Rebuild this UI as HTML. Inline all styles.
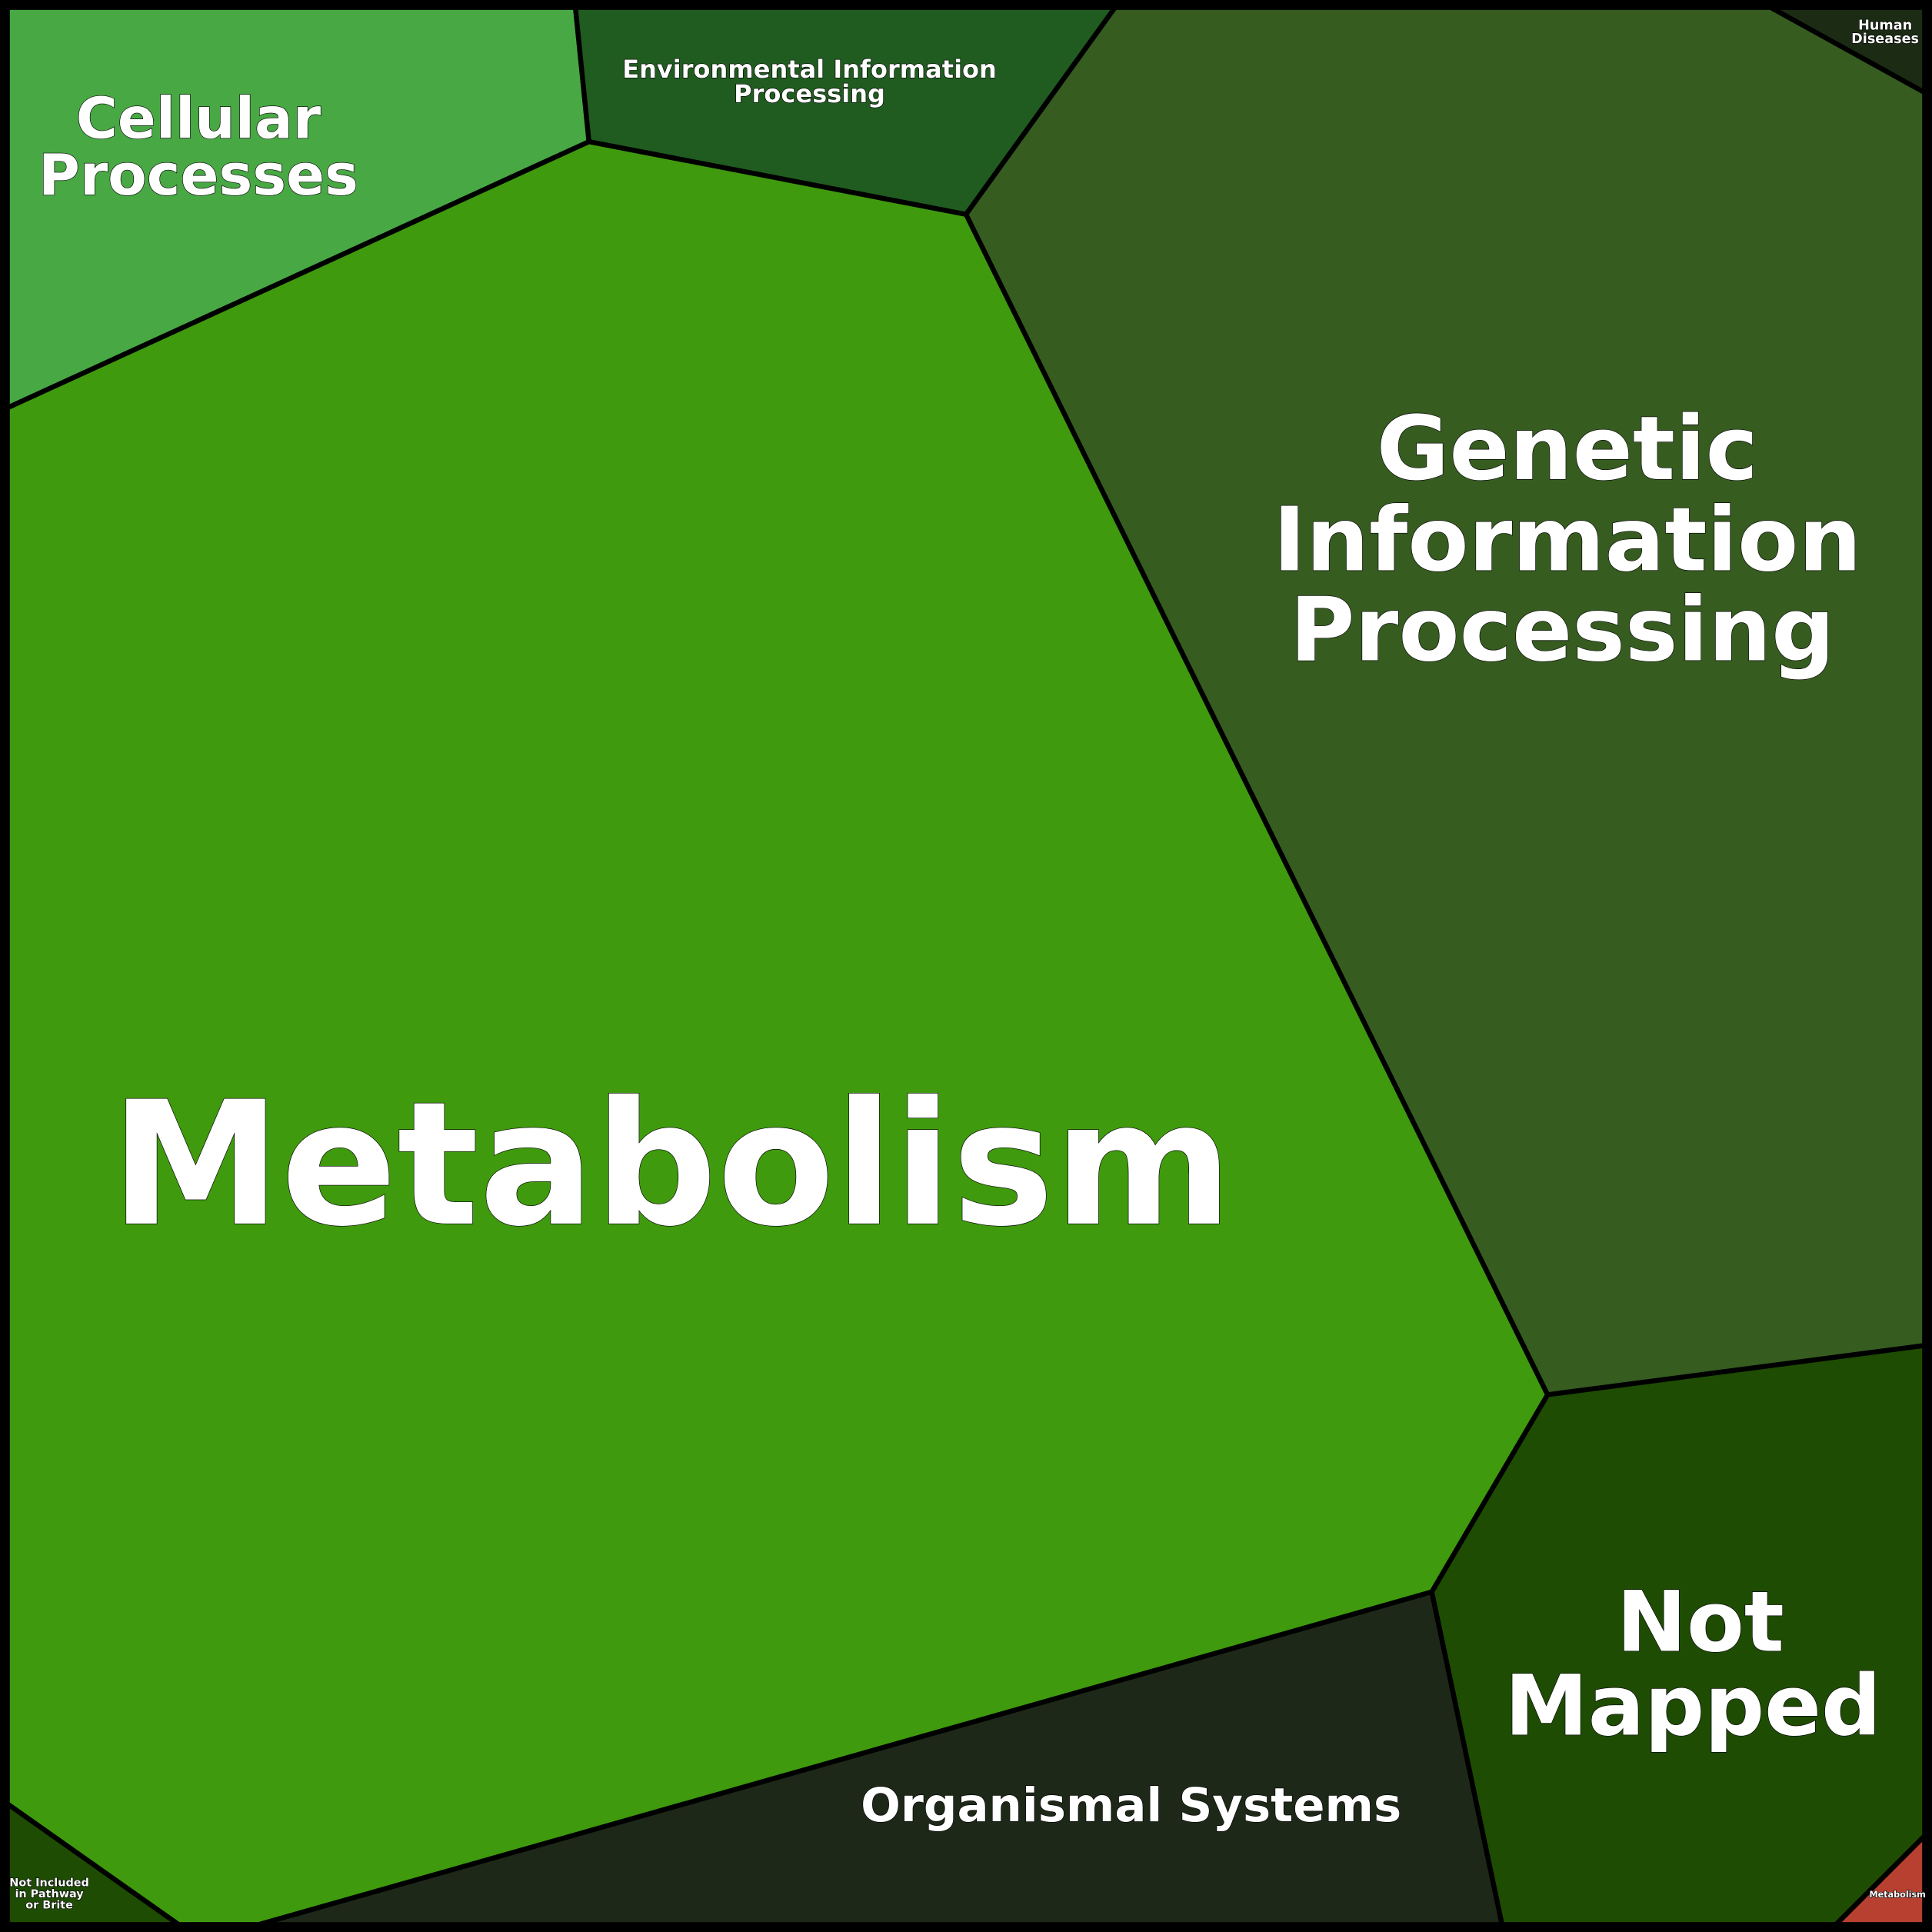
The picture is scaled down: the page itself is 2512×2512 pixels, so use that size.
<!DOCTYPE html>
<html><head><style>html,body{margin:0;padding:0;background:#000}svg{display:block}
text{font-family:"DejaVu Sans","Liberation Sans",sans-serif;font-weight:bold;fill:#fff;stroke:#000;stroke-width:0.8;paint-order:stroke;text-anchor:middle}</style></head>
<body>
<svg width="2512" height="2512" viewBox="0 0 1568 1568" xmlns="http://www.w3.org/2000/svg">
<rect x="0" y="0" width="1568" height="1568" fill="#000"/>
<g stroke="#000" stroke-width="4" stroke-linejoin="round">
<polygon points="6,6 467,6 478,115 6,331" fill="#48a844"/>
<polygon points="467,6 905,6 784,174 478,115" fill="#205c20"/>
<polygon points="905,6 1437,6 1562,75 1562,1092 1256,1132 784,174" fill="#365c20"/>
<polygon points="1437,6 1562,6 1562,75" fill="#1c2c14"/>
<polygon points="6,331 478,115 784,174 1256,1132 1162,1292 210,1562 145,1562 6,1464" fill="#3f9a0e"/>
<polygon points="1256,1132 1562,1092 1562,1490 1490,1562 1219,1562 1162,1292" fill="#1e4c02"/>
<polygon points="1162,1292 1219,1562 210,1562" fill="#1e2818"/>
<polygon points="6,1464 145,1562 6,1562" fill="#1e4c02"/>
<polygon points="1562,1490 1562,1562 1490,1562" fill="#b84030"/>
</g>
<rect x="3" y="3" width="1562" height="1562" fill="none" stroke="#000" stroke-width="7"/>
<text x="545" y="993" font-size="139">Metabolism</text>
<text x="1272" y="389" font-size="72">Genetic</text>
<text x="1272" y="463" font-size="72">Information</text>
<text x="1268" y="536" font-size="72">Processing</text>
<text x="161" y="112" font-size="46">Cellular</text>
<text x="161" y="158" font-size="46">Processes</text>
<text x="657" y="63" font-size="20">Environmental Information</text>
<text x="657" y="83" font-size="20">Processing</text>
<text x="1380" y="1340" font-size="68">Not</text>
<text x="1374" y="1408" font-size="68">Mapped</text>
<text x="918" y="1478" font-size="38">Organismal Systems</text>
<text x="1530" y="24" font-size="11" stroke-width="0.3">Human</text>
<text x="1530" y="35" font-size="11" stroke-width="0.3">Diseases</text>
<text x="40" y="1531" font-size="9" font-weight="normal" stroke-width="0.3">Not Included</text>
<text x="40" y="1540" font-size="9" stroke-width="0.3">in Pathway</text>
<text x="40" y="1549" font-size="9" stroke-width="0.3">or Brite</text>
<text x="1540" y="1540" font-size="7" stroke-width="0.2">Metabolism</text>
</svg>
</body></html>
